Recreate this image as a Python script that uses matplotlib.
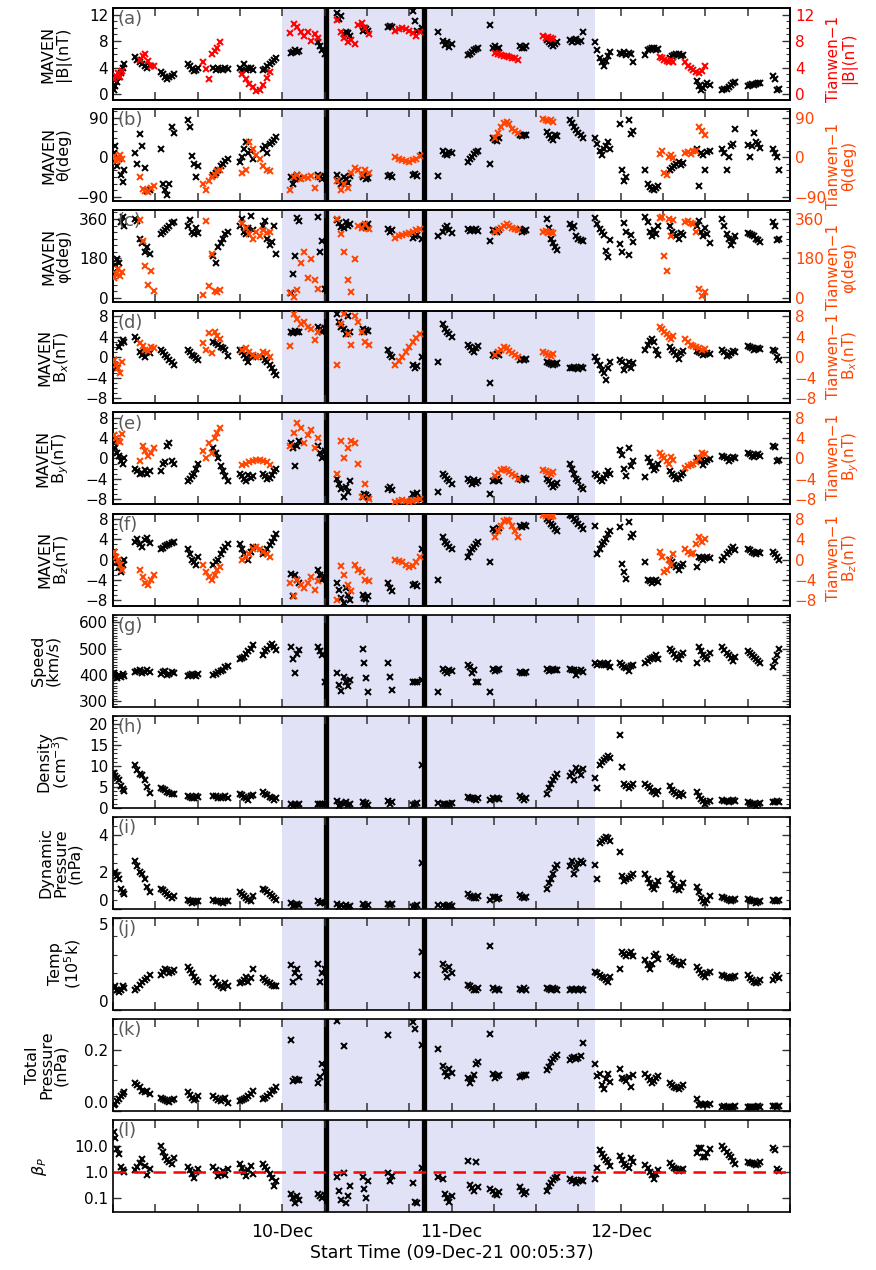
import numpy as np
import matplotlib
matplotlib.use('Agg')
import matplotlib.pyplot as plt
from matplotlib.ticker import MultipleLocator, FixedLocator

N = np.nan

# hours since 09-Dec-21 00:05:37 (MAVEN samples, one line per orbit segment)
mav_t = [0.1, 0.35, 0.6, 0.85, 1.1, 1.35, 1.6,
         3.1, 3.45, 3.8, 4.15, 4.5, 4.85, 5.2,
         6.8, 7.1, 7.4, 7.7, 8.0, 8.3, 8.6,
         10.6, 10.9, 11.2, 11.5, 11.8, 12.1,
         14.2, 14.55, 14.9, 15.25, 15.6, 15.95, 16.3,
         18.0, 18.3, 18.6, 18.9, 19.2, 19.5, 19.8,
         21.3, 21.6, 21.9, 22.2, 22.5, 22.8, 23.1,
         25.2, 25.5, 25.8, 26.1, 26.4,
         29.1, 29.4, 29.7, 30.0,
         31.8, 32.1, 32.4, 32.7, 33.0, 33.3, 33.6,
         35.4, 35.65, 35.9, 36.15,
         39.0, 39.3, 39.6,
         42.5, 42.8, 43.1, 43.8,
         46.1, 46.8, 47.1, 47.4, 47.7, 48.0,
         50.3, 50.6, 50.9, 51.2, 51.5, 51.8,
         53.5, 53.9, 54.2, 54.5, 54.8,
         57.7, 58.0, 58.3, 58.6,
         61.5, 61.8, 62.1, 62.4, 62.7, 63.0,
         64.8, 65.1, 65.4, 65.7, 66.0, 66.3, 66.6,
         68.4, 68.7, 69.0, 69.3, 69.6, 69.9, 70.2, 70.5,
         71.9, 72.2, 72.5, 72.8, 73.1, 73.4, 73.7,
         75.5, 75.8, 76.1, 76.4, 76.7, 77.0, 77.3,
         79.0, 79.3, 79.6, 79.9, 80.2, 80.5, 80.8,
         82.8, 83.1, 83.4, 83.7, 84.0, 84.3, 84.6,
         86.4, 86.7, 87.0, 87.3, 87.6, 87.9, 88.2,
         90.0, 90.3, 90.6, 90.9, 91.2, 91.5, 91.8,
         93.6, 93.9, 94.2, 94.5]

# MAVEN |B| (nT)
mav_B = [0.6, 1.2, 1.8, 2.5, 3.2, 3.9, 4.5,
         5.6, 5.2, 4.9, 4.5, 4.2, 4.0, 4.3,
         3.4, 3.0, 2.6, 2.2, 2.5, 2.8, 3.0,
         4.6, 4.2, 3.8, 3.5, 3.7, 4.0,
         3.9, 3.7, 4.0, 3.8, 3.6, 4.0, 3.8,
         3.9, 3.6, 4.5, 3.7, 3.9, 4.0, 3.7,
         3.6, 3.8, 4.2, 4.5, 4.8, 5.1, 5.5,
         6.2, 6.4, 6.6, 6.3, 6.5,
         7.9, 7.2, 6.6, 6.1,
         12.3, 11.3, 11.8, 9.0, 9.4, 9.2, 8.8,
         9.5, 10.0, 9.8, 9.6,
         10.1, 10.3, 10.2,
         12.6, 11.0, 9.5, 10.0,
         9.3, 8.0, 7.4, 7.8, 7.1, 7.5,
         5.9, 6.1, 6.3, 6.6, 6.8, 7.0,
         10.5, 7.0, 7.2, 6.8, 6.9,
         7.2, 6.9, 7.0, 7.3,
         8.2, 7.8, 7.5, 7.2, 7.6, 7.9,
         8.2, 7.9, 8.1, 8.3, 7.8, 8.0, 9.3,
         7.8, 6.6, 5.4, 4.8, 4.2, 5.0, 5.8, 6.3,
         6.2, 6.0, 6.3, 5.9, 6.2, 6.0, 4.8,
         5.9, 6.6, 6.8, 7.0, 6.9, 6.7, 6.8,
         5.5, 5.8, 5.9, 6.0, 6.0, 5.8, 5.9,
         2.0, 1.2, 0.6, 0.9, 1.3, 1.7, 1.4,
         0.6, 0.8, 0.7, 1.0, 1.3, 1.6, 1.8,
         1.2, 1.4, 1.5, 1.3, 1.5, 1.6, 1.7,
         2.7, 2.3, 0.6, 0.8]

# MAVEN theta (deg)
mav_th = [10, 25, -20, -5, -40, -57, -30,
          10, -15, 53, 25, -25, -76, -74,
          20, -60, -75, -85, -60, 70, 55,
          85, 70, 2, -15, -45, -20,
          -40, -35, -30, -20, -15, -8, -5,
          -10, 0, 20, 35, 10, 15, -5,
          20, 25, 10, 30, 35, 40, 46,
          -45, -61, -50, -40, -48,
          -40, -45, -50, -42,
          -40, -55, -60, -45, -50, -58, -42,
          -45, -40, -50, -47,
          -42, -40, -45,
          -40, -38, -43, 5,
          -43, 15, 8, 5, 12, 10,
          -10, -5, 0, 8, 12, 15,
          -15, 45, 40, 38, 45,
          50, 48, 52, 50,
          58, 50, 45, 40, 52, 48,
          85, 78, 70, 62, 55, 50, 45,
          45, 30, 15, 5, 20, 25, 35, 18,
          75, -30, -55, -45, 86, 53, 60,
          -30, -62, -68, -72, -75, -70, -66,
          -30, -25, -20, -15, -10, -18, -12,
          18, -65, 10, 5, -30, 12, 15,
          20, 10, -30, 0, 25, 30, 65,
          28, 0, 25, 55, 35, 30, 22,
          20, 10, 0, -30]

# MAVEN phi (deg)
mav_ph = [120, 150, 175, 160, 345, 370, 330,
          362, 350, 270, 250, 210, 230, 200,
          290, 300, 310, 320, 330, 340, 345,
          330, 355, 300, 290, 320, 295,
          190, 160, 230, 250, 270, 290, 300,
          330, 360, 300, 290, 320, 375, 310,
          330, 350, 270, 240, 255, 330, 200,
          20, 109, 191, 365, 350,
          370, 210, 260, 40,
          355, 340, 325, 320, 345, 330, 335,
          325, 330, 320, 335,
          315, 300, 310,
          275, 280, 285, 268,
          283, 300, 320, 330, 310, 295,
          315, 305, 310, 308, 312, 306,
          260, 310, 305, 300, 308,
          315, 300, 305, 310,
          360, 320, 270, 250, 230, 220,
          335, 320, 330, 280, 270, 265, 260,
          365, 337, 315, 300, 285, 215, 185, 265,
          245, 210, 342, 300, 195, 285, 255,
          370, 345, 300, 280, 310, 290, 330,
          330, 300, 290, 280, 270, 295, 285,
          330, 350, 300, 280, 320, 290, 250,
          360, 330, 290, 270, 240, 260, 280,
          295, 290, 285, 280, 270, 262, 255,
          345, 330, 265, 270]

# MAVEN Bx, By, Bz (nT)
mav_bx = [-0.5, -1.5, -2.0, 2.0, 2.8, 3.4, 3.0,
          4.0, 3.3, 1.0, 0.5, 0.0, 1.0, 0.8,
          1.5, 1.0, 0.5, 0.0, -0.5, -1.0, -1.5,
          1.5, 1.0, 0.5, 0.2, -0.2, -0.5,
          3.0, 2.8, 2.5, 2.0, 1.8, 1.5, 0.2,
          1.5, 1.0, 0.5, -0.2, -1.0, 0.3, 0.0,
          0.0, -0.5, -1.0, -1.5, -2.0, -2.8, -3.5,
          5.0, 4.8, 5.2, 5.0, 4.9,
          6.0, 5.5, 5.0, 5.8,
          8.5, 7.0, 6.0, 5.5, 4.5, 8.0, 5.0,
          5.5, 5.0, 5.3, 5.2,
          1.5, 0.5, 0.0,
          -1.5, -2.0, -1.8, 0.0,
          -1.0, 6.5, 5.5, 5.0, 4.5, 4.0,
          2.5, 2.0, 1.5, 1.0, 1.8, 2.2,
          -5.0, 0.5, 0.3, 0.6, 0.4,
          -0.5, -0.3, -0.6, -0.4,
          -1.0, -1.2, -1.4, -1.5, -1.3, -1.1,
          -2.0, -2.1, -1.9, -2.0, -2.2, -1.9, -2.0,
          0.0, -0.8, -1.5, -2.5, -3.0, -4.5, -2.0, -1.0,
          -0.5, -1.0, -2.5, -1.5, -1.0, -2.0, -1.2,
          1.5, 2.5, 3.2, 3.5, 3.0, 1.5, 0.5,
          2.0, 1.5, 1.0, 0.5, -0.3, 0.8, 1.2,
          1.2, 1.0, 0.8, 0.5, 0.7, 0.9, 0.6,
          1.5, 1.0, 0.3, 0.5, 0.8, 1.2, 1.0,
          2.3, 2.0, 1.8, 1.5, 1.7, 1.9, 1.6,
          1.5, 1.2, 0.0, -0.5]

mav_by = [3.0, 2.0, 1.0, 0.5, -0.5, -1.0, 0.0,
          -2.0, -2.5, -3.0, -2.8, -2.2, -3.0, -2.5,
          -2.5, -1.0, -0.8, 2.5, 3.0, -0.5, -1.0,
          -4.5, -4.0, -3.5, -3.0, -2.0, -1.0,
          2.0, 1.0, 0.0, -1.5, -2.5, -3.5, -4.5,
          -3.0, -3.5, -4.0, -4.5, -3.2, -3.8, -3.5,
          -3.0, -3.5, -4.0, -3.8, -3.2, -2.5, -2.0,
          3.0, 2.0, -1.5, 2.5, 3.5,
          2.5, 1.0, 0.0, 1.5,
          -4.0, -5.0, -6.0, -7.5, -5.5, -6.5, -4.5,
          -7.5, -7.0, -7.2, -7.6,
          -6.0, -5.5, -6.2,
          -7.0, -7.2, -6.8, -8.0,
          -6.5, -3.0, -3.5, -4.0, -4.5, -5.0,
          -4.0, -4.5, -5.0, -4.2, -4.8, -4.5,
          -7.0, -4.5, -4.3, -4.0, -4.4,
          -4.0, -4.2, -3.8, -4.0,
          -4.0, -4.5, -5.0, -5.5, -5.2, -4.8,
          -1.0, -2.0, -3.0, -4.0, -4.5, -5.5, -6.0,
          -3.0, -3.5, -4.0, -4.5, -3.8, -3.2, -2.5, -3.0,
          1.7, 0.7, -2.0, -3.5, 2.0, -1.5, -0.5,
          -3.7, 0.0, -0.8, -1.5, -2.3, -1.8, -1.0,
          -2.5, -3.0, -3.5, -4.0, -3.8, -3.2, -2.8,
          0.0, -0.3, -0.6, -1.2, -0.8, -0.4, -0.2,
          0.5, 0.2, 0.0, -0.5, -0.2, 0.3, 0.1,
          1.0, 0.8, 0.5, 0.2, 0.6, 0.9, 0.4,
          2.5, 2.3, -0.5, -0.3]

mav_bz = [1.5, 0.5, -0.5, -1.5, -2.5, -1.0, 0.0,
          3.5, 4.0, 3.0, 2.5, 3.8, 4.2, 3.2,
          2.0, 2.3, 2.6, 2.8, 3.0, 3.3, 3.5,
          2.0, 1.0, 0.0, -0.5, -1.0, 0.5,
          -1.0, -0.5, 0.0, 1.0, 1.8, 2.5, 3.0,
          3.0, 2.0, 1.0, 0.5, 0.0, 1.5, 2.5,
          1.0, 1.5, 2.0, 2.8, 3.5, 4.2, 5.0,
          -2.8, -7.2, -3.0, -4.0, -4.5,
          -2.0, -3.0, -4.0, -3.5,
          -4.5, -6.0, -7.5, -8.5, -5.5, -7.0, -8.0,
          -7.0, -7.5, -7.7, -7.2,
          -4.5, -5.5, -6.2,
          -5.0, -4.8, -5.2, 2.0,
          -4.0, 4.5, 3.5, 3.0, 2.5, 2.0,
          0.5, 1.5, 2.0, 2.5, 3.0, 3.5,
          -0.5, 6.0, 5.5, 5.8, 6.2,
          6.5, 6.3, 6.7, 6.5,
          8.0, 7.5, 7.0, 6.5, 6.0, 5.5,
          8.8, 8.5, 8.0, 7.5, 7.0, 6.5, 6.0,
          6.5, 1.0, 2.0, 3.0, 3.5, 4.0, 5.0, 5.5,
          6.4, -0.8, -2.5, -3.8, 7.3, 4.4, 5.0,
          -0.5, -4.0, -4.2, -4.5, -4.3, -4.0, -4.4,
          0.0, -0.5, -1.0, -1.5, -2.0, -1.2, -0.8,
          -1.5, 0.5, 0.3, 0.0, 0.2, 0.5, 0.3,
          0.0, 0.5, 1.0, 1.5, 2.0, 2.5, 1.8,
          2.0, 1.8, 1.5, 1.2, 1.0, 1.5, 1.3,
          1.5, 1.0, 0.5, 0.0]

# MAVEN solar wind speed (km/s)
mav_v = [408, 395, 388, 400, 392, 405, 398,
         410, 415, 420, 408, 412, 418, 410,
         405, 410, 415, 400, 405, 412, 408,
         398, 402, 405, 400, 396, 404,
         400, 405, 410, 415, 420, 430, 435,
         460, 465, 470, 480, 490, 500, 513,
         475, 490, 500, 510, 520, 505, 494,
         507, 462, 409, 480, 495,
         507, 490, 477, 375,
         407, 364, 339, 394, 372, 360, 380,
         500, 447, 387, 337,
         444, 394, 345,
         372, 372, 375, 380,
         337, 424, 417, 409, 420, 415,
         439, 430, 409, 420, 372, 375,
         337, 424, 417, 420, 422,
         412, 406, 408, 410,
         424, 417, 420, 422, 418, 420,
         424, 420, 418, 402, 415, 420, 410,
         447, 440, 445, 442, 438, 440, 445, 432,
         447, 440, 430, 425, 417, 435, 440,
         447, 455, 460, 465, 470, 477, 460,
         500, 490, 480, 470, 462, 475, 485,
         447, 507, 490, 477, 470, 460, 485,
         507, 495, 485, 475, 465, 455, 470,
         492, 485, 478, 470, 462, 455, 447,
         432, 455, 478, 500]

# MAVEN density (cm^-3)
mav_n = [8.2, 7.6, 7.0, 6.6, 5.2, 4.5, 4.0,
         10.3, 9.0, 8.0, 7.8, 6.6, 5.0, 3.6,
         4.8, 4.5, 4.2, 3.8, 3.5, 3.3, 3.2,
         2.9, 2.6, 2.2, 2.4, 2.8, 2.5,
         2.9, 2.7, 2.4, 2.2, 2.5, 2.8, 2.3,
         3.3, 3.0, 2.6, 2.2, 1.9, 2.7, 3.1,
         3.7, 3.3, 3.0, 2.6, 2.2, 1.9, 2.4,
         1.0, 0.5, 0.8, 0.7, 0.9,
         1.0, 0.8, 0.9, 1.0,
         1.5, 0.5, 1.1, 0.8, 1.3, 0.6, 0.9,
         1.3, 0.7, 1.1, 0.6,
         1.6, 1.0, 1.3,
         0.7, 0.8, 1.2, 10.1,
         1.2, 1.0, 0.8, 0.7, 0.9, 1.1,
         2.6, 2.4, 2.2, 2.0, 1.9, 2.3,
         1.9, 2.3, 2.1, 2.2, 2.0,
         2.8, 2.2, 1.9, 2.4,
         3.3, 4.6, 5.6, 6.6, 7.3, 8.0,
         7.5, 8.4, 6.6, 9.4, 8.8, 7.8, 9.2,
         7.2, 4.8, 10.3, 11.0, 11.5, 12.0, 12.3, 11.8,
         17.3, 9.7, 5.6, 5.1, 4.8, 5.3, 5.6,
         5.6, 5.1, 4.6, 4.1, 3.7, 3.3, 3.9,
         5.1, 4.3, 3.7, 3.2, 2.8, 3.4, 3.0,
         3.7, 2.7, 2.0, 1.5, 1.0, 1.3, 1.6,
         1.9, 1.7, 1.5, 1.4, 1.6, 1.8, 1.7,
         1.4, 1.2, 1.0, 0.8, 0.5, 0.9, 1.2,
         1.4, 1.3, 1.5, 1.4]

# MAVEN dynamic pressure (nPa)
mav_pd = [1.9, 2.0, 1.8, 1.6, 1.1, 0.9, 0.8,
          2.6, 2.3, 2.0, 1.9, 1.6, 1.2, 0.9,
          1.1, 1.0, 0.9, 0.8, 0.7, 0.6, 0.7,
          0.5, 0.4, 0.3, 0.35, 0.45, 0.4,
          0.5, 0.45, 0.4, 0.35, 0.3, 0.4, 0.45,
          0.9, 0.8, 0.7, 0.6, 0.5, 0.4, 0.7,
          1.1, 1.0, 0.9, 0.8, 0.7, 0.6, 0.5,
          0.3, 0.15, 0.2, 0.25, 0.18,
          0.4, 0.3, 0.35, 0.3,
          0.25, 0.1, 0.18, 0.12, 0.22, 0.1, 0.15,
          0.28, 0.12, 0.1, 0.22,
          0.28, 0.22, 0.25,
          0.12, 0.15, 0.22, 2.5,
          0.22, 0.18, 0.12, 0.15, 0.2, 0.17,
          0.78, 0.72, 0.66, 0.6, 0.56, 0.7,
          0.48, 0.62, 0.66, 0.52, 0.57,
          0.76, 0.66, 0.57, 0.62,
          1.1, 1.4, 1.6, 1.9, 2.2, 2.4,
          2.3, 2.6, 1.9, 2.2, 2.5, 2.6, 2.5,
          2.4, 1.6, 3.6, 3.7, 3.8, 3.9, 3.85, 3.7,
          3.1, 1.8, 1.5, 1.6, 1.7, 1.8, 1.9,
          1.9, 1.6, 1.4, 1.2, 1.1, 1.3, 1.5,
          1.9, 1.6, 1.3, 1.1, 1.0, 1.2, 1.4,
          1.2, 0.9, 0.6, 0.4, 0.3, 0.5, 0.7,
          0.65, 0.6, 0.55, 0.5, 0.45, 0.5, 0.55,
          0.55, 0.5, 0.45, 0.4, 0.3, 0.35, 0.45,
          0.5, 0.45, 0.4, 0.5]

# MAVEN temperature (10^5 K)
mav_temp = [1.2, 1.3, 1.1, 1.0, 1.1, 1.3, 1.2,
            1.1, 1.2, 1.36, 1.5, 1.6, 1.76, 1.9,
            1.9, 2.07, 2.24, 2.16, 1.98, 2.07, 2.16,
            2.33, 2.16, 1.98, 1.8, 1.63, 1.54,
            1.72, 1.54, 1.36, 1.28, 1.19, 1.45, 1.28,
            1.45, 1.54, 1.63, 1.8, 1.54, 1.72, 2.24,
            1.72, 1.63, 1.54, 1.45, 1.36, 1.32, 1.28,
            2.42, 1.54, 1.98, 2.24, 1.8,
            2.5, 1.54, 1.98, 2.24,
            N, N, N, N, N, N, N,
            N, N, N, N,
            N, N, N,
            N, N, 1.89, 3.12,
            N, 2.5, 2.16, 1.8, 2.33, 1.98,
            1.36, 1.28, 1.19, 1.1, 1.06, 1.19,
            3.48, 1.19, 1.1, 1.14, 1.1,
            1.14, 1.1, 1.19, 1.1,
            1.19, 1.14, 1.1, 1.19, 1.14, 1.1,
            1.1, 1.14, 1.1, 1.14, 1.1, 1.14, 1.1,
            2.07, 1.98, 1.89, 1.8, 1.72, 1.63, 1.54, 1.8,
            2.24, 3.12, 3.04, 2.95, 3.04, 3.12, 2.95,
            2.73, 2.42, 2.24, 2.51, 2.95, 3.04, 2.77,
            2.86, 2.77, 2.68, 2.6, 2.51, 2.42, 2.6,
            2.33, 2.16, 1.98, 1.89, 1.8, 1.98, 2.07,
            1.89, 1.85, 1.8, 1.76, 1.72, 1.8, 1.85,
            1.89, 1.72, 1.63, 1.54, 1.45, 1.54, 1.63,
            1.63, 1.8, 1.89, 1.72]

# MAVEN total pressure (nPa)
mav_pt = [0.018, 0.024, 0.031, 0.04, 0.048, 0.057, 0.062,
          0.09, 0.084, 0.078, 0.066, 0.061, 0.066, 0.057,
          0.044, 0.04, 0.035, 0.031, 0.029, 0.035, 0.04,
          0.061, 0.053, 0.044, 0.035, 0.04, 0.048,
          0.048, 0.044, 0.035, 0.031, 0.04, 0.044, 0.027,
          0.031, 0.035, 0.04, 0.044, 0.048, 0.057, 0.066,
          0.04, 0.044, 0.048, 0.057, 0.066, 0.07, 0.078,
          0.231, 0.097, 0.103, 0.1, 0.101,
          0.09, 0.11, 0.153, 0.128,
          0.295, N, N, 0.212, N, N, N,
          N, N, N, N,
          0.247, N, N,
          0.291, 0.266, N, 0.216,
          0.203, 0.146, 0.128, 0.115, 0.137, 0.123,
          0.109, 0.09, 0.103, 0.119, 0.153, 0.159,
          0.251, 0.122, 0.109, 0.115, 0.119,
          0.11, 0.115, 0.119, 0.117,
          0.134, 0.145, 0.159, 0.168, 0.176, 0.184,
          0.166, 0.172, 0.176, 0.17, 0.174, 0.178, 0.222,
          0.153, 0.115, 0.122, 0.084, 0.071, 0.103, 0.122, 0.093,
          0.137, 0.109, 0.103, 0.097, 0.11, 0.078, 0.119,
          0.122, 0.11, 0.101, 0.09, 0.097, 0.106, 0.115,
          0.09, 0.084, 0.079, 0.075, 0.071, 0.079, 0.084,
          0.04, 0.02, 0.024, 0.018, 0.022, 0.02, 0.023,
          0.013, 0.015, 0.012, 0.014, 0.012, 0.013, 0.015,
          0.012, 0.013, 0.014, 0.012, 0.013, 0.015, 0.014,
          0.017, 0.015, 0.013, 0.016]

# MAVEN proton beta
mav_beta = [36, 20, 8, 5, 1.6, 1.2, 1.0,
            1.2, 1.6, 2.2, 3.3, 1.8, 0.8, 1.4,
            10, 6, 4, 3, 2.5, 2.1, 3.5,
            1.6, 1.2, 0.9, 0.6, 1.0, 1.3,
            1.6, 1.2, 0.7, 0.9, 1.1, 0.8, 1.3,
            2.1, 1.5, 1.0, 0.7, 1.2, 1.8, 0.9,
            2.1, 1.6, 1.2, 0.9, 0.6, 0.3, 0.45,
            0.15, 0.1, 0.065, 0.12, 0.09,
            0.15, 0.12, 0.1, 0.13,
            0.65, 0.2, 0.09, 0.95, 0.065, 0.12, 0.3,
            0.65, 0.24, 0.1, 0.46,
            0.95, 0.46, 0.7,
            0.4, 0.072, 0.065, 1.5,
            0.65, 0.55, 0.15, 0.1, 0.072, 0.12,
            2.6, 0.33, 0.25, 0.2, 2.5, 0.28,
            0.24, 0.2, 0.15, 0.13, 0.18,
            0.28, 0.2, 0.15, 0.18,
            0.2, 0.3, 0.4, 0.5, 0.6, 0.65,
            0.55, 0.45, 0.5, 0.4, 0.48, 0.52, 0.45,
            0.55, 1.5, 7, 5, 4, 3, 2.5, 1.7,
            4.4, 3.0, 2.0, 1.7, 1.5, 3.5, 2.5,
            1.9, 1.5, 1.0, 0.8, 0.55, 0.9, 1.2,
            2.3, 1.8, 1.5, 1.3, 1.1, 1.2, 1.4,
            5.3, 8.5, 8.5, 3.7, 3.7, 5.3, 8.0,
            10, 7.7, 6.0, 4.5, 3.7, 2.8, 2.0,
            2.5, 2.3, 2.2, 2.0, 1.9, 2.1, 2.4,
            8.5, 7.0, 1.4, 1.1]

# Tianwen-1 samples
tw_t = [0.1, 0.4, 0.7, 1.0, 1.3,
        3.8, 4.2, 4.6, 5.0, 5.4, 5.8,
        12.8, 13.2, 13.6, 14.0, 14.4, 14.8, 15.2,
        18.3, 18.8, 19.3, 19.8, 20.3, 20.8, 21.3, 21.8, 22.3,
        25.1, 25.6, 26.1, 26.6, 27.1, 27.6, 28.1, 28.6, 29.1,
        31.8, 32.3, 32.8, 33.3, 33.8, 34.3, 34.8, 35.3, 35.8, 36.3,
        40.0, 40.5, 41.0, 41.5, 42.0, 42.5, 43.0, 43.5,
        54.2, 54.6, 55.0, 55.4, 55.8, 56.2, 56.6, 57.0, 57.4,
        61.0, 61.35, 61.7, 62.05, 62.4,
        77.6, 77.9, 78.2, 78.5, 78.8, 79.1, 79.4,
        81.1, 81.5, 81.9, 82.3, 82.7, 83.1, 83.5, 83.9]

tw_B = [2.2, 2.8, 3.2, 2.6, 3.5,
        5.2, 5.8, 6.1, 5.0, 4.3, 4.3,
        4.8, 3.8, 2.3, 6.0, 6.5, 6.9, 7.8,
        3.0, 2.3, 1.5, 1.0, 0.5, 0.6, 1.3, 2.4, 3.4,
        9.2, 10.6, 10.2, 9.4, 8.8, 9.3, 8.0, 9.0, 8.4,
        11.2, 9.3, 8.4, 7.8, 8.1, 7.6, 10.4, 10.8, 10.0, 9.0,
        9.5, 9.8, 10.0, 9.9, 9.6, 9.2, 8.8, 9.3,
        6.2, 6.0, 5.9, 5.8, 5.7, 5.6, 5.5, 5.4, 5.2,
        8.7, 8.5, 8.6, 8.4, 8.3,
        5.6, 5.4, 5.1, 5.0, 4.9, 5.2, 4.8,
        4.8, 4.2, 3.9, 3.6, 3.4, 3.2, 3.5, 4.3]

tw_th = [2, -8, -3, 5, -5,
         -45, -72, -78, -80, -70, -65,
         -62, -75, -55, -45, -40, -32, -28,
         -35, -30, 35, 20, 5, -5, -20, -30, -32,
         -75, -45, -40, -50, -45, -48, -42, -70, -45,
         -55, -75, -60, -70, -35, -25, -30, -40, -28, -35,
         0, -3, -6, -8, -10, -7, -3, 2,
         45, 55, 70, 78, 80, 75, 65, 60, 55,
         87, 85, 82, 84, 80,
         8, 15, -35, -40, 0, 5, -2,
         10, 12, 8, 15, 15, 70, 60, 52]

tw_ph = [90, 110, 130, 100, 120,
         355, 260, 146, 60, 122, 30,
         15, 350, 55, 200, 30, 25, 35,
         340, 320, 290, 270, 300, 280, 310, 295, 300,
         20, 5, 35, 160, 210, 90, 175, 80, 40,
         360, 290, 210, 80, 25, 175, 330, 320, 335, 315,
         275, 280, 285, 290, 295, 300, 308, 315,
         300, 310, 320, 330, 335, 330, 320, 315, 310,
         300, 305, 295, 300, 298,
         365, 370, 190, 123, 360, 280, 355,
         345, 350, 340, 338, 300, 40, 10, 25]

tw_bx = [-0.5, -1.5, -2.0, -3.0, -1.0,
         2.7, 2.3, 1.5, 1.3, 2.0, 1.8,
         2.7, 1.5, 4.8, 0.8, 5.0, 4.2, 3.5,
         1.5, 1.8, 1.0, 0.5, 0.0, 0.3, 1.0, 0.8, 0.0,
         2.3, 8.5, 7.5, 6.5, 7.0, 6.0, 5.5, 3.3, 5.0,
         -1.5, 6.5, 8.5, 4.5, 2.5, 8.0, 7.0, 5.0, 3.0, 2.5,
         -1.5, -0.8, 0.0, 1.0, 2.0, 3.0, 3.8, 4.5,
         0.5, 1.0, 1.5, 2.0, 1.8, 1.2, 0.8, 0.5, 0.0,
         1.0, 0.8, 0.5, 0.3, 0.6,
         6.0, 5.5, 5.0, 4.5, 4.0, 3.5, 4.2,
         3.5, 3.0, 2.5, 2.2, 2.0, 1.8, 1.5, 1.6]

tw_by = [4.5, 4.0, 3.5, 3.3, 4.7,
         -0.5, 2.5, 1.5, 0.5, 1.0, 2.0,
         1.5, 0.0, 3.0, 1.0, 4.0, 5.0, 6.0,
         -1.2, -1.0, -0.8, -0.6, -0.4, -0.3, -0.5, -0.8, -1.2,
         2.5, 5.0, 7.0, 6.0, 3.0, 4.5, 5.5, 2.0, 4.0,
         -3.0, 3.5, 0.0, 2.0, 3.5, 3.0, -1.0, -7.5, -5.0, -8.0,
         -8.6, -8.4, -8.2, -8.4, -8.6, -8.3, -8.1, -7.9,
         -3.5, -2.8, -2.2, -2.0, -2.2, -2.6, -3.0, -3.5, -4.0,
         -2.3, -2.5, -2.8, -3.0, -2.6,
         1.0, 0.5, 0.0, -0.5, -1.0, 0.2, -0.3,
         -1.8, -1.5, -1.2, -1.0, -0.7, 0.0, 1.0, 0.8]

tw_bz = [1.5, 0.5, 0.0, -1.0, -2.0,
         -2.0, -3.5, -4.5, -5.0, -4.0, -3.0,
         -1.0, -2.5, -3.5, -4.0, -3.0, -2.0, -1.5,
         0.0, 0.5, 1.0, 2.0, 2.5, 2.0, 1.5, 1.0, 0.5,
         -4.5, -7.2, -4.0, -5.0, -5.5, -4.5, -3.5, -6.0, -4.2,
         -8.0, -1.2, -3.0, -5.0, -6.2, -1.0, -2.0, -2.5, -4.0, -4.2,
         0.0, -0.2, -0.5, -1.0, -1.5, -1.2, -0.5, 0.5,
         4.5, 5.5, 6.5, 7.5, 7.8, 7.5, 6.5, 5.5, 4.5,
         8.7, 8.5, 8.8, 8.4, 8.6,
         1.5, 0.5, -2.5, -2.0, 0.0, -1.0, 1.0,
         2.0, 1.5, 1.0, 1.2, 3.0, 4.5, 3.5, 4.0]

for arr in (mav_B, mav_th, mav_ph, mav_bx, mav_by, mav_bz, mav_v, mav_n,
            mav_pd, mav_temp, mav_pt, mav_beta):
    assert len(arr) == len(mav_t), len(arr)
for arr in (tw_B, tw_th, tw_ph, tw_bx, tw_by, tw_bz):
    assert len(arr) == len(tw_t), len(arr)

shade_span = (24.0, 68.4)
event_lines = [30.2, 44.1]
day_ticks = {24: '10-Dec', 48: '11-Dec', 72: '12-Dec'}

RED = '#ff0000'
ORANGE = '#ff4500'
SHADE = '#e2e2f7'
LETTER = '#5a5a5a'

plt.rcParams.update({'font.family': 'DejaVu Sans', 'font.size': 12,
                     'ytick.labelsize': 11,
                     'xtick.direction': 'in', 'ytick.direction': 'in',
                     'axes.linewidth': 1.2})

W, H = 876.0, 1270.0
fig = plt.figure(figsize=(8.76, 12.70), dpi=100)

# letter, MAVEN, Tianwen, colour, left label, right label, ylim, ticks, minor, right label y
mag_panels = [
    ('(a)', mav_B, tw_B, RED, 'MAVEN\n|B|(nT)', 'Tianwen\u22121\n|B|(nT)',
     (-0.9, 13), [0, 4, 8, 12], 1, 0.45),
    ('(b)', mav_th, tw_th, ORANGE, 'MAVEN\n\u03b8(deg)', 'Tianwen\u22121\n\u03b8(deg)',
     (-100, 110), [-90, 0, 90], 15, 0.38),
    ('(c)', mav_ph, tw_ph, ORANGE, 'MAVEN\n\u03c6(deg)', 'Tianwen\u22121\n\u03c6(deg)',
     (-20, 400), [0, 180, 360], 30, 0.38),
    ('(d)', mav_bx, tw_bx, ORANGE, 'MAVEN\nB$_x$(nT)', 'Tianwen\u22121\nB$_x$(nT)',
     (-9, 9), [-8, -4, 0, 4, 8], 1, 0.52),
    ('(e)', mav_by, tw_by, ORANGE, 'MAVEN\nB$_y$(nT)', 'Tianwen\u22121\nB$_y$(nT)',
     (-9, 9), [-8, -4, 0, 4, 8], 1, 0.52),
    ('(f)', mav_bz, tw_bz, ORANGE, 'MAVEN\nB$_z$(nT)', 'Tianwen\u22121\nB$_z$(nT)',
     (-9, 9), [-8, -4, 0, 4, 8], 1, 0.52),
]

# letter, values, label, ylim, ticks, minor, tick labels, label x, push edge labels in
sw_panels = [
    ('(g)', mav_v, 'Speed\n(km/s)', (280, 630), [300, 400, 500, 600], 10, None, -0.078, False),
    ('(h)', mav_n, 'Density\n(cm$^{-3}$)', (0, 22), [0, 5, 10, 15, 20], 1, None, -0.062, False),
    ('(i)', mav_pd, 'Dynamic\nPressure\n(nPa)', (0, 5), [0, 2, 4], 0.5, None, -0.045, True),
    ('(j)', mav_temp, 'Temp\n(10$^5$k)', (0, 5), [0, 5], 1, None, -0.045, True),
    ('(k)', mav_pt, 'Total\nPressure\n(nPa)', (0, 0.3), [0.0, 0.2], 0.05, ['0.0', '0.2'], -0.066, True),
    ('(l)', mav_beta, r'$\beta_P$', (0.03, 100), [0.1, 1, 10], None, ['0.1', '1.0', '10.0'], -0.095, False),
]


def make_axes(i):
    top = 8 + i * 101.1
    return fig.add_axes([113 / W, 1 - (top + 92) / H, 677 / W, 92 / H])


def base_style(ax, letter):
    ax.axvspan(*shade_span, color=SHADE, lw=0, zorder=0)
    for xl in event_lines:
        ax.axvline(xl, color='k', lw=3.8, zorder=1)
    ax.set_xlim(0, 96)
    ax.xaxis.set_major_locator(MultipleLocator(6))
    ax.tick_params(axis='x', which='major', top=True, bottom=True, length=6,
                   width=1.1, color='#333333', labelbottom=False)
    ax.tick_params(axis='y', which='major', length=6, width=1.0, color='#333333')
    ax.tick_params(axis='y', which='minor', length=3, width=0.8, color='#333333')
    ax.text(0.006, 0.975, letter, transform=ax.transAxes, ha='left', va='top',
            color=LETTER, fontsize=13, zorder=6)


def keep_edge_labels_inside(ax, ylim):
    # labels sitting on the panel edge are pushed inside, as in the original
    locs = ax.yaxis.get_majorticklocs()
    for tick, v in zip(ax.yaxis.get_major_ticks(len(locs)), locs):
        if np.isclose(v, ylim[0]):
            tick.label1.set_verticalalignment('bottom')
        elif np.isclose(v, ylim[1]):
            tick.label1.set_verticalalignment('top')


mk = dict(ls='none', marker='x', ms=5, mew=1.45)

idx = 0
for letter, mv, tv, col, llab, rlab, ylim, ticks, minor, ry in mag_panels:
    ax = make_axes(idx)
    base_style(ax, letter)
    ax.plot(mav_t, mv, color='k', zorder=2, **mk)
    ax.set_ylim(*ylim)
    ax.yaxis.set_major_locator(FixedLocator(ticks))
    ax.yaxis.set_minor_locator(MultipleLocator(minor))
    ax.set_ylabel(llab, fontsize=11.5, linespacing=1.0)
    ax.yaxis.set_label_coords(-0.062, 0.5)

    ax2 = ax.twinx()
    ax2.plot(tw_t, tv, color=col, zorder=3, **mk)
    ax2.set_ylim(*ylim)
    ax2.yaxis.set_major_locator(FixedLocator(ticks))
    ax2.yaxis.set_minor_locator(MultipleLocator(minor))
    ax2.tick_params(axis='y', which='major', length=6, width=1.0, color='#333333',
                    labelcolor=col)
    ax2.tick_params(axis='y', which='minor', length=3, width=0.8, color='#333333')
    ax2.set_ylabel(rlab, color=col, fontsize=11, linespacing=1.0)
    ax2.yaxis.set_label_coords(1.053, ry)
    idx += 1

for letter, vals, lab, ylim, ticks, minor, tlabs, lx, push in sw_panels:
    ax = make_axes(idx)
    base_style(ax, letter)
    ax.tick_params(axis='y', which='both', right=True)
    ax.plot(mav_t, vals, color='k', zorder=2, **mk)
    if letter == '(l)':
        ax.set_yscale('log')
        ax.axhline(1.0, color='red', lw=1.8, dashes=[5, 3], zorder=3)
    ax.set_ylim(*ylim)
    ax.yaxis.set_major_locator(FixedLocator(ticks))
    if minor is not None:
        ax.yaxis.set_minor_locator(MultipleLocator(minor))
    if tlabs is not None:
        ax.set_yticklabels(tlabs)
    if push:
        keep_edge_labels_inside(ax, ylim)
    ax.set_ylabel(lab, fontsize=11.5, linespacing=0.95)
    ax.yaxis.set_label_coords(lx, 0.5)
    idx += 1

# bottom axis labels
ax.set_xticks(np.arange(0, 97, 6))
ax.set_xticklabels([day_ticks.get(int(t), '') for t in np.arange(0, 97, 6)])
ax.tick_params(axis='x', labelbottom=True, labelsize=12.5, pad=8)
ax.set_xlabel('Start Time (09-Dec-21 00:05:37)', fontsize=12.5, labelpad=2)

fig.savefig('out.png', dpi=100)
